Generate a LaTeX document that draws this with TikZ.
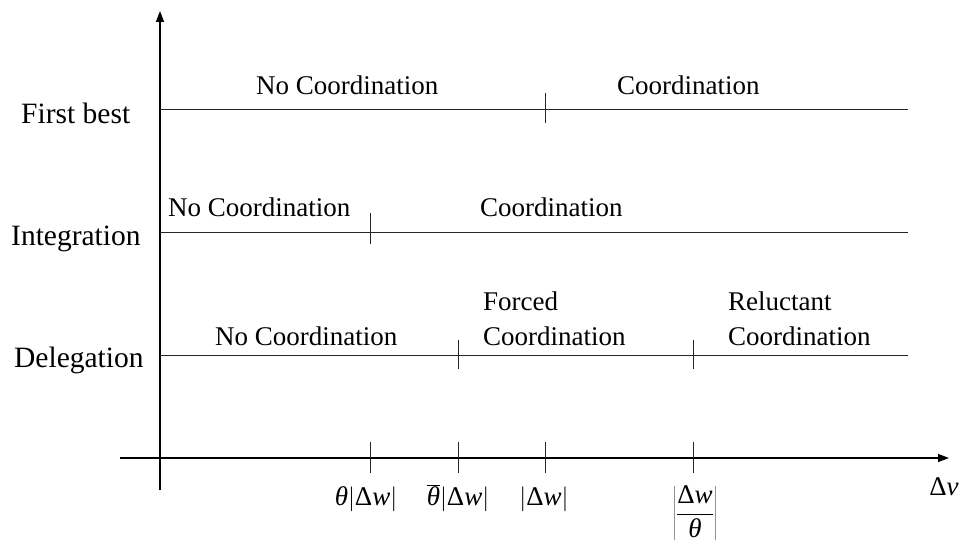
\documentclass[tikz,border=0pt]{standalone}
\usepackage{fontspec}
\setmainfont{Liberation Serif}
\usetikzlibrary{arrows.meta}
\begin{document}
\begin{tikzpicture}[x=1pt,y=-1pt,
  axisline/.style={line width=1.4pt,-{Triangle[length=11pt,width=8pt]}},
  rowline/.style={line width=1pt,black!85},
  tickmark/.style={line width=1pt,black!85},
  rowlabel/.style={anchor=base west,inner sep=0pt,font=\fontsize{29.5}{34}\selectfont},
  seglabel/.style={anchor=base west,inner sep=0pt,font=\fontsize{27}{32}\selectfont},
  axlabel/.style={anchor=base,inner sep=0pt,font=\fontsize{27}{32}\selectfont}]
\useasboundingbox (0,0) rectangle (966,548);
% axes
\coordinate (xs) at (120,458);
\coordinate (xe) at (949,458);
\coordinate (ys) at (160,490);
\coordinate (ye) at (160,11);
\draw[axisline] (xs) -- (xe);
\draw[axisline] (ys) -- (ye);
% rows
\coordinate (r1s) at (160,110); \coordinate (r1e) at (908,110);
\coordinate (r2s) at (160,232); \coordinate (r2e) at (908,232);
\coordinate (r3s) at (160,355); \coordinate (r3e) at (908,355);
\draw[rowline] (r1s) -- (r1e);
\draw[rowline] (r2s) -- (r2e);
\draw[rowline] (r3s) -- (r3e);
% row ticks
\coordinate (t1a) at (545,93); \coordinate (t1b) at (545,123);
\coordinate (t2a) at (370,213); \coordinate (t2b) at (370,244);
\coordinate (t3a) at (458,340); \coordinate (t3b) at (458,369);
\coordinate (t4a) at (693,340); \coordinate (t4b) at (693,369);
\draw[tickmark] (t1a) -- (t1b);
\draw[tickmark] (t2a) -- (t2b);
\draw[tickmark] (t3a) -- (t3b);
\draw[tickmark] (t4a) -- (t4b);
% axis ticks
\foreach \xx/\nm in {370/a,458/b,545/c,693/d}{
  \coordinate (ax\nm1) at (\xx,442);
  \coordinate (ax\nm2) at (\xx,473);
  \draw[tickmark] (ax\nm1) -- (ax\nm2);
}
% row labels
\node[rowlabel] (fb) at (21,124) {First best};
\node[rowlabel] (ig) at (11,245) {Integration};
\node[rowlabel] (dg) at (14,367) {Delegation};
% segment labels
\node[seglabel] (nc1) at (256,95) {No Coordination};
\node[seglabel] (c1) at (617,95) {Coordination};
\node[seglabel] (nc2) at (168,217) {No Coordination};
\node[seglabel] (c2) at (480,217) {Coordination};
\node[seglabel] (nc3) at (215,345) {No Coordination};
\node[seglabel] (fc1) at (483,310) {Forced};
\node[seglabel] (fc2) at (483,345) {Coordination};
\node[seglabel] (rc1) at (728,310) {Reluctant};
\node[seglabel] (rc2) at (728,345) {Coordination};
% axis labels
\node[axlabel] (dv) at (944,495) {Δ\textit{v}};
\node[axlabel] (l1) at (366,505) {\textit{θ}$\bigl|$Δ\textit{w}$\bigr|$};
\node[axlabel] (l2) at (458,505) {$\overline{\mbox{\textit{θ}}}\bigl|$Δ\textit{w}$\bigr|$};
\node[axlabel] (l3) at (544,505) {$\bigl|$Δ\textit{w}$\bigr|$};
\node[axlabel,anchor=center] (l4) at (695,513) {$\displaystyle\left|\frac{\mbox{Δ\textit{w}}}{\mbox{\textit{θ}}}\right|$};
\end{tikzpicture}
\end{document}
